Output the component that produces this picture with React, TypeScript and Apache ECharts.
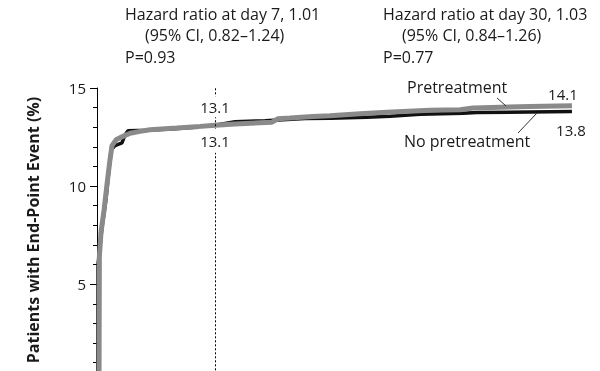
import React, { useEffect, useRef } from "react";
import * as echarts from "echarts";

// Days since first dose / cumulative % with end-point event
const preDays = [0.12, 0.14, 0.24, 0.42, 0.59, 0.77, 0.89, 1.13, 1.48, 1.96, 2.55, 3.14, 4.73, 6.11, 7.0, 8.19, 10.38, 10.74, 11.45, 12.81, 13.82, 15.6, 17.2, 19.75, 21.53, 22.3, 25.68, 28.17];
const preVals = [0, 6.4, 7.67, 8.79, 10.07, 11.34, 12.06, 12.36, 12.51, 12.69, 12.79, 12.87, 12.96, 13.04, 13.1, 13.16, 13.26, 13.43, 13.47, 13.55, 13.59, 13.69, 13.76, 13.86, 13.89, 13.98, 14.06, 14.1];

const noPreDays = [0.05, 0.06, 0.3, 0.53, 0.74, 0.86, 1.07, 1.48, 1.66, 1.84, 2.97, 4.63, 5.81, 7.0, 8.19, 9.96, 11.03, 12.34, 13.82, 16.0, 17.38, 19.16, 21.7, 22.54, 28.17];
const noPreVals = [0, 6.0, 7.9, 9.3, 11.1, 11.86, 12.06, 12.2, 12.6, 12.82, 12.85, 12.92, 13.0, 13.1, 13.28, 13.33, 13.38, 13.44, 13.46, 13.51, 13.56, 13.66, 13.71, 13.75, 13.8];

const markDay = 7;
const day7Label = "13.1";
const preEndLabel = "14.1";
const noPreEndLabel = "13.8";

const hazardLeft = ["Hazard ratio at day 7, 1.01", "(95% CI, 0.82\u20131.24)", "P=0.93"];
const hazardRight = ["Hazard ratio at day 30, 1.03", "(95% CI, 0.84\u20131.26)", "P=0.77"];
const yTitle = "Patients with End-Point Event (%)";

const FONT = "Open Sans";
const INK = "#1a1a1a";

export default function App() {
  const ref = useRef<HTMLDivElement>(null);
  useEffect(() => {
    document.body.style.margin = "0";
    const chart = echarts.init(ref.current!, null, { renderer: "svg" });
    const zip = (xs: number[], ys: number[]) => xs.map((x, i) => [x, ys[i]]);
    chart.setOption({
      animation: false,
      grid: { left: 97, top: 88, width: 505.8, height: 294.3, outerBoundsMode: "none", containLabel: false },
      xAxis: { type: "value", min: 0, max: 30, show: false },
      yAxis: {
        type: "value",
        min: 0,
        max: 15,
        interval: 5,
        axisLine: { show: true, lineStyle: { color: "#000", width: 1 } },
        axisTick: { show: true, length: 7, lineStyle: { color: "#000" } },
        minorTick: { show: true, splitNumber: 5, length: 4, lineStyle: { color: "#000" } },
        splitLine: { show: false },
        axisLabel: { margin: 11, fontSize: 15, color: INK, fontFamily: FONT, showMinLabel: false },
      },
      series: [
        {
          type: "line",
          name: "No pretreatment",
          data: zip(noPreDays, noPreVals),
          symbol: "none",
          lineStyle: { color: "#111", width: 3.5 },
          z: 2,
        },
        {
          type: "line",
          name: "Pretreatment",
          data: zip(preDays, preVals),
          symbol: "none",
          lineStyle: { color: "#8a8a8a", width: 5 },
          z: 3,
          markLine: {
            silent: true,
            symbol: "none",
            label: { show: false },
            lineStyle: { type: [2, 2], color: "#000", width: 1 },
            data: [{ xAxis: markDay }],
          },
        },
      ],
    });

    const px = (d: number, v: number) => chart.convertToPixel({ gridIndex: 0 }, [d, v]) as number[];
    const i7 = preDays.indexOf(markDay);
    const p7 = px(markDay, preVals[i7]);
    const pEnd = px(preDays[preDays.length - 1], preVals[preVals.length - 1]);
    const nEnd = px(noPreDays[noPreDays.length - 1], noPreVals[noPreVals.length - 1]);

    const txt = (text: string, x: number, y: number, size = 16, extra: any = {}) => ({
      type: "text",
      x,
      y,
      z: 100,
      style: {
        text,
        fill: INK,
        font: `${size}px "${FONT}"`,
        textVerticalAlign: "middle",
        ...extra,
      },
    });

    chart.setOption({
      graphic: [
        txt(hazardLeft[0], 125, 14),
        txt(hazardLeft[1], 145, 35),
        txt(hazardLeft[2], 125, 57),
        txt(hazardRight[0], 383, 14),
        txt(hazardRight[1], 402, 35),
        txt(hazardRight[2], 383, 57),
        txt(day7Label, p7[0], p7[1] - 18.5, 15, { textAlign: "center", backgroundColor: "#fff", padding: [3, 1] }),
        txt(day7Label, p7[0], p7[1] + 15.5, 15, { textAlign: "center", backgroundColor: "#fff", padding: [3, 1, 6, 1] }),
        txt(preEndLabel, pEnd[0] - 9, pEnd[1] - 12, 15, { textAlign: "center" }),
        txt(noPreEndLabel, nEnd[0] - 1, nEnd[1] + 18, 15, { textAlign: "center" }),
        txt("Pretreatment", 407, 87),
        txt("No pretreatment", 404, 141),
        {
          type: "text",
          x: 33,
          y: 230,
          rotation: Math.PI / 2,
          z: 100,
          style: { text: yTitle, fill: INK, font: `bold 16px "${FONT}"`, textAlign: "center", textVerticalAlign: "middle" },
        },
        { type: "line", z: 100, shape: { x1: 497, y1: 98, x2: 506, y2: 106 }, style: { stroke: "#333", lineWidth: 1 } },
        { type: "line", z: 100, shape: { x1: 518, y1: 133, x2: 537, y2: 113 }, style: { stroke: "#333", lineWidth: 1 } },
      ],
    });

    return () => chart.dispose();
  }, []);
  return <div ref={ref} style={{ width: 600, height: 371, position: "fixed", left: 0, top: 0 }} />;
}
